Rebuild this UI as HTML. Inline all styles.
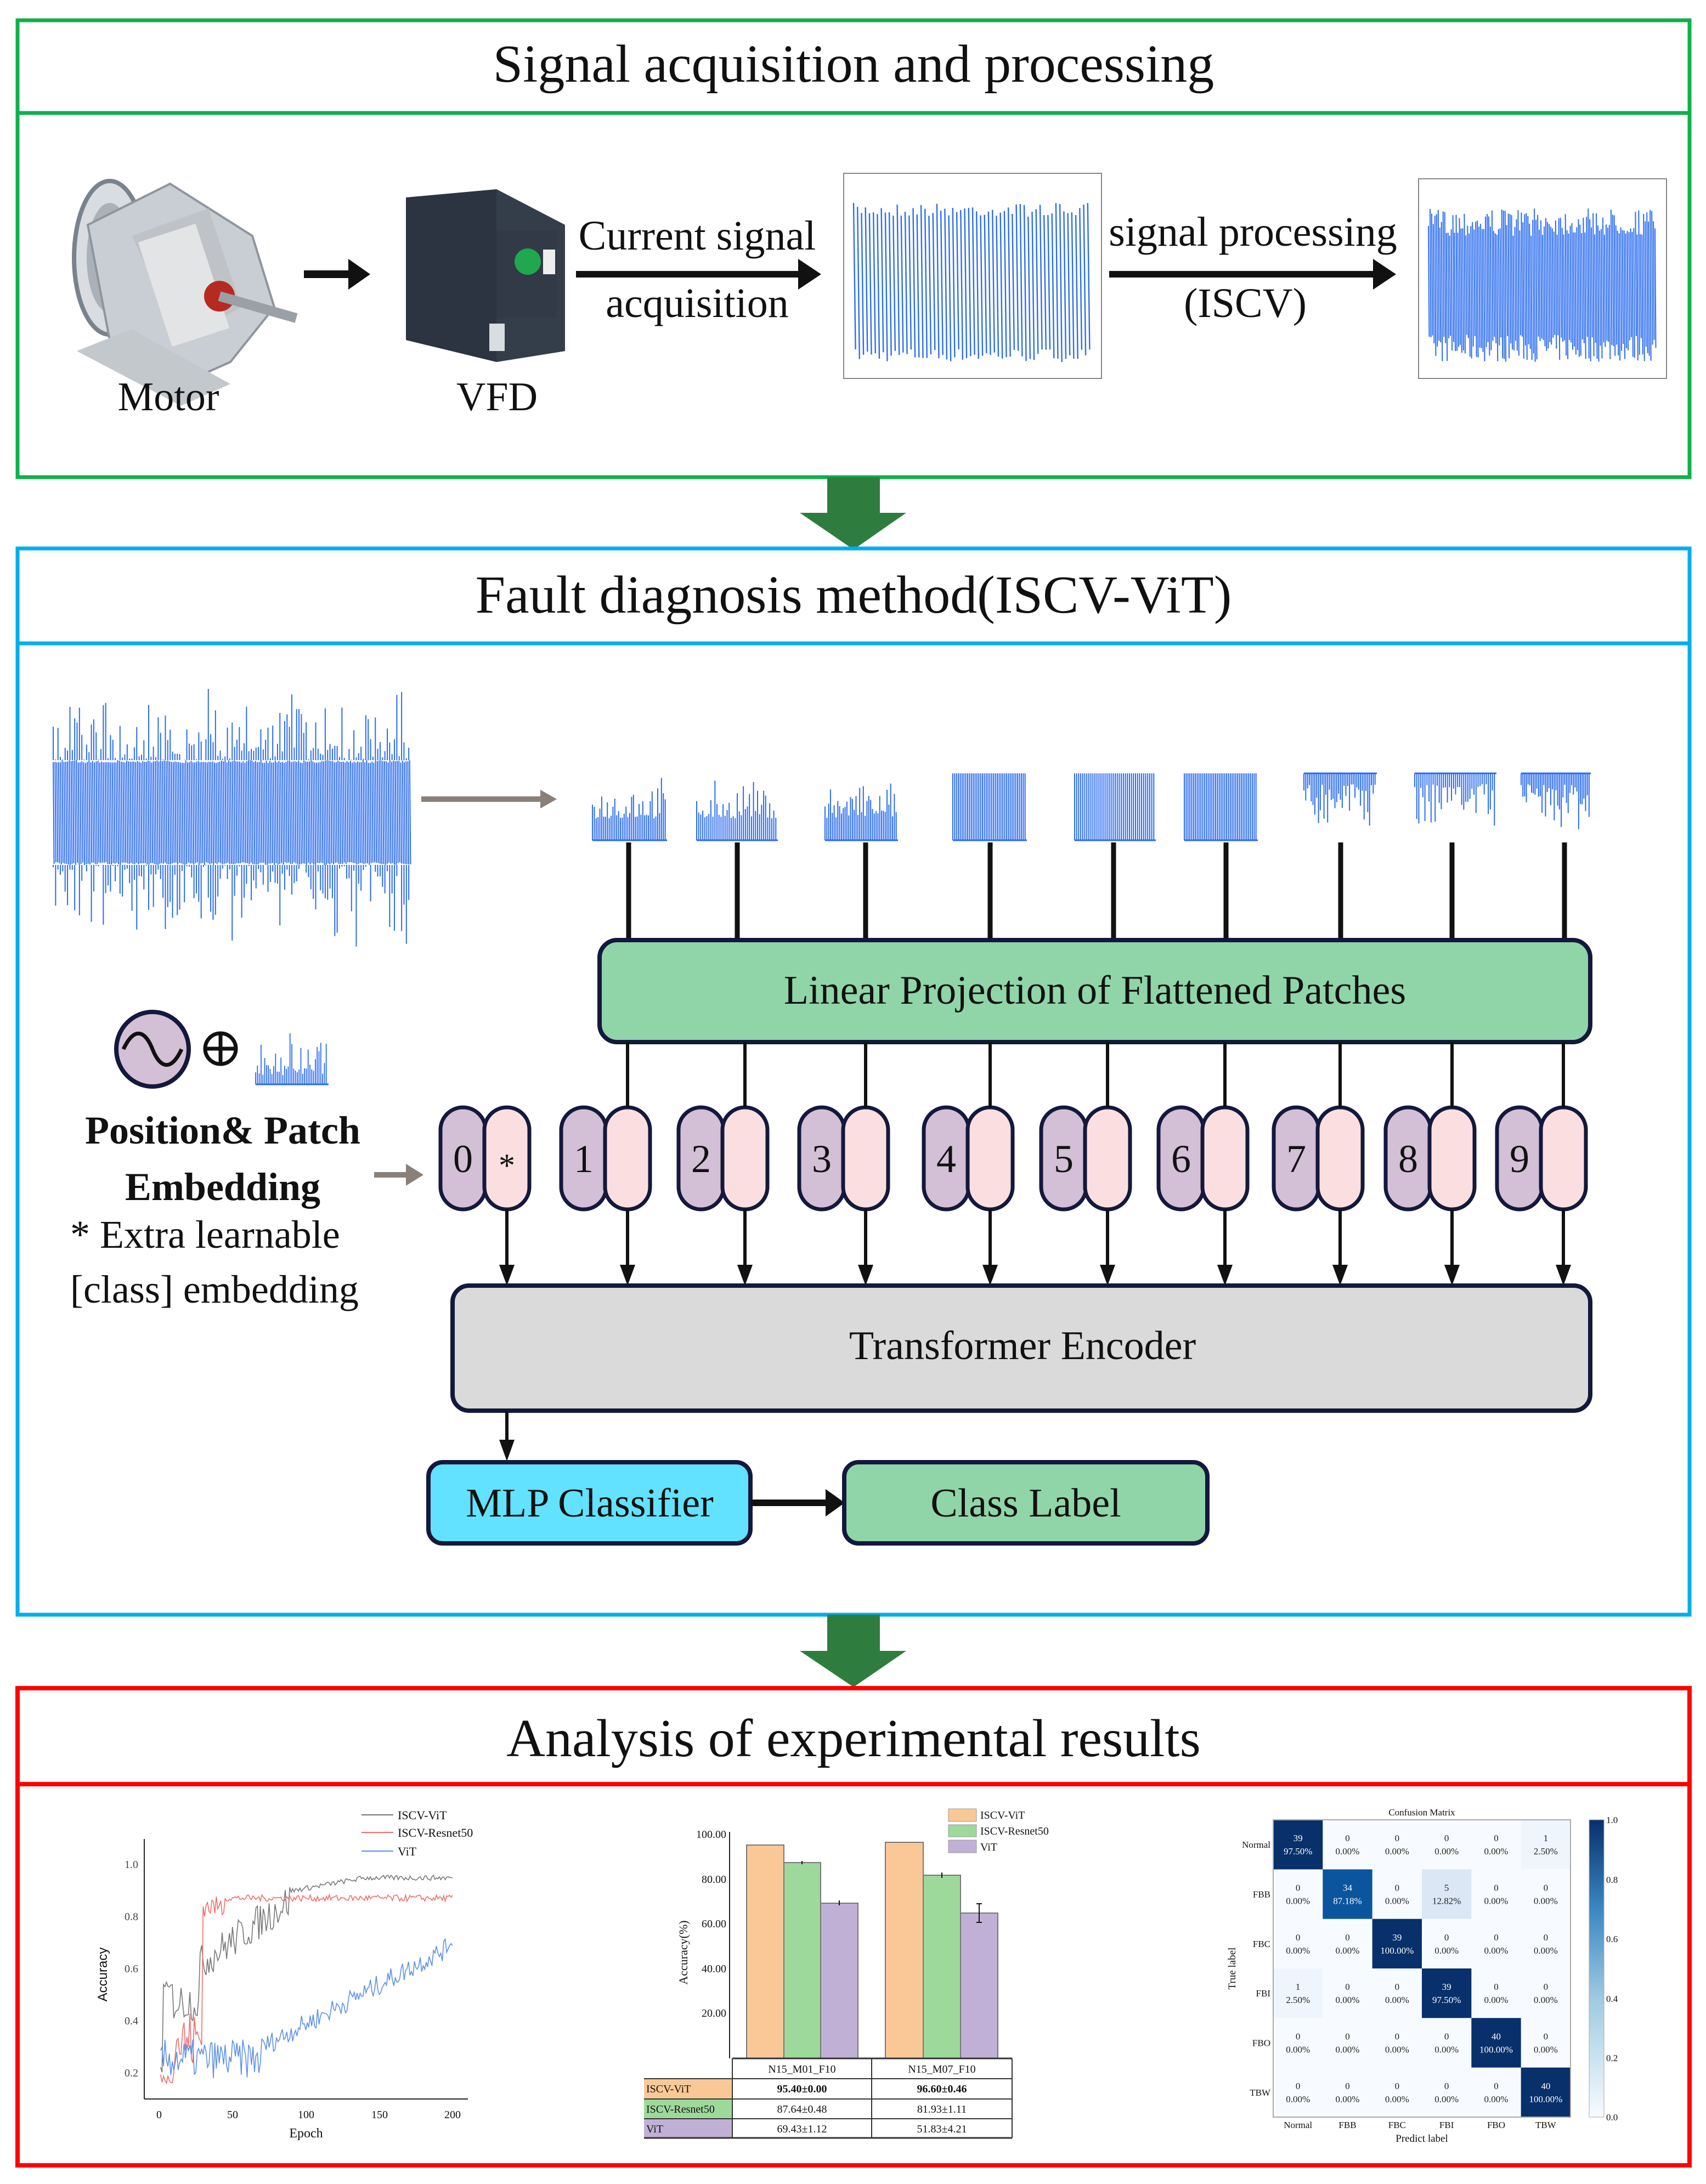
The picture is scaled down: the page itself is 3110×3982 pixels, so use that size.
<!DOCTYPE html>
<html><head><meta charset="utf-8"><style>
html,body{margin:0;padding:0;background:#fff}
svg{display:block}
text{font-family:"Liberation Serif",serif;fill:#111}
</style></head><body>
<svg id="s" xmlns="http://www.w3.org/2000/svg" width="3110" height="3982" viewBox="0 0 3110 3982">
<rect width="3110" height="3982" fill="#fff"/>
<!-- Section 1 -->
<rect x="32" y="37" width="3048" height="833" fill="none" stroke="#10b04a" stroke-width="7"/>
<line x1="32" y1="206" x2="3080" y2="206" stroke="#10b04a" stroke-width="7"/>
<text x="1556" y="149" font-size="98" text-anchor="middle">Signal acquisition and processing</text>
<!-- motor -->
<g>
<ellipse cx="200" cy="470" rx="65" ry="140" fill="#d9dde2" stroke="#7a828c" stroke-width="8"/>
<ellipse cx="200" cy="470" rx="42" ry="100" fill="#aab1b9"/>
<polygon points="160,410 310,335 460,430 500,560 420,660 330,700 200,620" fill="#c9ced4" stroke="#8e959d" stroke-width="4"/>
<polygon points="240,430 380,380 440,560 330,620" fill="#bfc3c7"/>
<rect x="280" y="420" width="110" height="200" fill="#e3e4e6" transform="rotate(-18 335 520)"/>
<circle cx="400" cy="540" r="28" fill="#b62a22"/>
<line x1="400" y1="540" x2="540" y2="580" stroke="#9aa0a6" stroke-width="18"/>
<polygon points="140,640 330,740 420,700 240,600" fill="#c3c8cd"/>
</g>
<text x="307" y="748" font-size="74" text-anchor="middle">Motor</text>
<line x1="554" y1="500" x2="640" y2="500" stroke="#111" stroke-width="14"/>
<polygon points="635,472 675,500 635,528" fill="#111"/>
<!-- VFD -->
<g>
<polygon points="740,360 905,345 1030,410 1030,640 905,660 740,620" fill="#2b3440"/>
<polygon points="905,345 1030,410 1030,640 905,660" fill="#343e4b"/>
<rect x="905" y="420" width="110" height="160" fill="#313a46"/>
<circle cx="962" cy="477" r="24" fill="#1fa84f"/>
<rect x="990" y="455" width="22" height="45" fill="#eee"/>
<rect x="892" y="590" width="28" height="50" fill="#d7dde0"/>
</g>
<text x="906" y="748" font-size="74" text-anchor="middle">VFD</text>
<text x="1271" y="455" font-size="76" text-anchor="middle">Current signal</text>
<text x="1271" y="578" font-size="76" text-anchor="middle">acquisition</text>
<line x1="1050" y1="500" x2="1460" y2="500" stroke="#111" stroke-width="12"/>
<polygon points="1455,472 1497,500 1455,528" fill="#111"/>
<rect x="1538" y="316" width="470" height="374" fill="#fff" stroke="#888" stroke-width="2"/>
<g id="sig1"></g>
<text x="2284" y="448" font-size="76" text-anchor="middle">signal processing</text>
<text x="2270" y="578" font-size="76" text-anchor="middle">(ISCV)</text>
<line x1="2022" y1="500" x2="2508" y2="500" stroke="#111" stroke-width="12"/>
<polygon points="2503,472 2545,500 2503,528" fill="#111"/>
<rect x="2586" y="326" width="452" height="364" fill="#fff" stroke="#888" stroke-width="2"/>
<g id="sig2"></g>
<!-- arrow 1 -->
<rect x="1508" y="870" width="96" height="70" fill="#2e7d3e"/>
<polygon points="1458,935 1652,935 1556,1002" fill="#2e7d3e"/>
<!-- Section 2 -->
<rect x="32" y="1000" width="3048" height="1944" fill="none" stroke="#00aeef" stroke-width="7"/>
<line x1="32" y1="1173" x2="3080" y2="1173" stroke="#00aeef" stroke-width="7"/>
<text x="1556" y="1117" font-size="98" text-anchor="middle">Fault diagnosis method(ISCV-ViT)</text>
<g id="longsig"></g>
<line x1="768" y1="1457" x2="990" y2="1457" stroke="#8a807a" stroke-width="10"/>
<polygon points="985,1440 1015,1457 985,1474" fill="#8a807a"/>
<g id="patches"></g>
<g id="pline" stroke="#111" stroke-width="10"></g>
<rect x="1093" y="1714" width="1806" height="186" rx="32" fill="#90d5a8" stroke="#14183c" stroke-width="8"/>
<text x="1996" y="1830" font-size="74" text-anchor="middle">Linear Projection of Flattened Patches</text>
<g id="tokens"></g>
<rect x="825" y="2344" width="2074" height="228" rx="30" fill="#dadada" stroke="#14183c" stroke-width="8"/>
<text x="1864" y="2478" font-size="74" text-anchor="middle">Transformer Encoder</text>
<line x1="924" y1="2574" x2="924" y2="2630" stroke="#111" stroke-width="6"/>
<polygon points="910,2625 938,2625 924,2664" fill="#111"/>
<rect x="781" y="2666" width="587" height="148" rx="26" fill="#62e2fe" stroke="#14183c" stroke-width="8"/>
<text x="1075" y="2765" font-size="74" text-anchor="middle">MLP Classifier</text>
<line x1="1370" y1="2740" x2="1510" y2="2740" stroke="#111" stroke-width="12"/>
<polygon points="1505,2715 1540,2740 1505,2765" fill="#111"/>
<rect x="1539" y="2666" width="662" height="148" rx="26" fill="#90d5a8" stroke="#14183c" stroke-width="8"/>
<text x="1870" y="2765" font-size="74" text-anchor="middle">Class Label</text>
<!-- position embedding -->
<ellipse cx="278" cy="1913" rx="66" ry="68" fill="#d3bfd6" stroke="#14183c" stroke-width="8"/>
<path d="M225,1913 C245,1870 265,1880 278,1913 C291,1946 311,1956 331,1913" fill="none" stroke="#111" stroke-width="7"/>
<circle cx="402" cy="1912" r="28" fill="none" stroke="#111" stroke-width="7"/>
<line x1="374" y1="1912" x2="430" y2="1912" stroke="#111" stroke-width="7"/>
<line x1="402" y1="1884" x2="402" y2="1940" stroke="#111" stroke-width="7"/>
<g id="smallsig"></g>
<text x="406" y="2085" font-size="72" font-weight="bold" text-anchor="middle">Position&amp; Patch</text>
<text x="406" y="2188" font-size="72" font-weight="bold" text-anchor="middle">Embedding</text>
<text x="128" y="2275" font-size="72">* Extra learnable</text>
<text x="128" y="2375" font-size="72">[class] embedding</text>
<line x1="682" y1="2142" x2="745" y2="2142" stroke="#8a807a" stroke-width="10"/>
<polygon points="740,2122 772,2142 740,2162" fill="#8a807a"/>
<!-- arrow 2 -->
<rect x="1508" y="2944" width="96" height="70" fill="#2e7d3e"/>
<polygon points="1458,3010 1652,3010 1556,3076" fill="#2e7d3e"/>
<!-- Section 3 -->
<rect x="32" y="3078" width="3048" height="870" fill="none" stroke="#ff0000" stroke-width="8"/>
<line x1="32" y1="3253" x2="3080" y2="3253" stroke="#ff0000" stroke-width="8"/>
<text x="1556" y="3202" font-size="98" text-anchor="middle">Analysis of experimental results</text>
<!-- line chart -->
<g font-size="20">
<line x1="263" y1="3353" x2="263" y2="3827" stroke="#222" stroke-width="2"/>
<line x1="263" y1="3827" x2="853" y2="3827" stroke="#222" stroke-width="2"/>
<text x="252" y="3406" text-anchor="end" style="fill:#444">1.0</text>
<text x="252" y="3501" text-anchor="end" style="fill:#444">0.8</text>
<text x="252" y="3596" text-anchor="end" style="fill:#444">0.6</text>
<text x="252" y="3691" text-anchor="end" style="fill:#444">0.4</text>
<text x="252" y="3786" text-anchor="end" style="fill:#444">0.2</text>
<text x="290" y="3862" text-anchor="middle">0</text>
<text x="424" y="3862" text-anchor="middle">50</text>
<text x="558" y="3862" text-anchor="middle">100</text>
<text x="692" y="3862" text-anchor="middle">150</text>
<text x="825" y="3862" text-anchor="middle">200</text>
<text x="558" y="3897" text-anchor="middle" font-size="24">Epoch</text>
<text x="0" y="0" font-size="24" text-anchor="middle" transform="translate(195 3600) rotate(-90)" style="font-family:'Liberation Sans',sans-serif">Accuracy</text>
<line x1="659" y1="3309" x2="717" y2="3309" stroke="#777" stroke-width="2"/>
<line x1="659" y1="3341" x2="717" y2="3341" stroke="#f06b6b" stroke-width="2"/>
<line x1="659" y1="3375" x2="717" y2="3375" stroke="#5b8fe8" stroke-width="2"/>
<text x="725" y="3317" font-size="22">ISCV-ViT</text>
<text x="725" y="3349" font-size="22">ISCV-Resnet50</text>
<text x="725" y="3383" font-size="22">ViT</text>
<g id="lc"></g>
</g>
<!-- bar chart -->
<g font-size="20">
<line x1="1330" y1="3340" x2="1330" y2="3753" stroke="#222" stroke-width="2"/>
<text x="1324" y="3351" text-anchor="end">100.00</text>
<text x="1324" y="3433" text-anchor="end">80.00</text>
<text x="1324" y="3514" text-anchor="end">60.00</text>
<text x="1324" y="3596" text-anchor="end">40.00</text>
<text x="1324" y="3677" text-anchor="end">20.00</text>
<text x="0" y="0" font-size="22" text-anchor="middle" transform="translate(1253 3560) rotate(-90)">Accuracy(%)</text>
<g stroke="#777" stroke-width="2">
<rect x="1361" y="3364" width="68" height="389" fill="#fac896"/>
<rect x="1429" y="3396" width="67" height="357" fill="#9dd99b"/>
<rect x="1496" y="3470" width="68" height="283" fill="#c1b0d6"/>
<rect x="1614" y="3359" width="69" height="394" fill="#fac896"/>
<rect x="1683" y="3419" width="68" height="334" fill="#9dd99b"/>
<rect x="1751" y="3488" width="68" height="265" fill="#c1b0d6"/>
</g>
<g stroke="#111" stroke-width="2">
<line x1="1462" y1="3393" x2="1462" y2="3399"/><line x1="1530" y1="3465" x2="1530" y2="3474"/>
<line x1="1717" y1="3414" x2="1717" y2="3424"/><line x1="1785" y1="3471" x2="1785" y2="3505"/>
<line x1="1780" y1="3471" x2="1790" y2="3471"/><line x1="1780" y1="3505" x2="1790" y2="3505"/>
</g>
<rect x="1729" y="3298" width="51" height="23" fill="#fac896" stroke="#999"/>
<rect x="1729" y="3327" width="51" height="22" fill="#9dd99b" stroke="#999"/>
<rect x="1729" y="3355" width="51" height="23" fill="#c1b0d6" stroke="#999"/>
<text x="1787" y="3316">ISCV-ViT</text><text x="1787" y="3345">ISCV-Resnet50</text><text x="1787" y="3374">ViT</text>
<rect x="1174" y="3790" width="161" height="37" fill="#fac896"/>
<rect x="1174" y="3827" width="161" height="36" fill="#9dd99b"/>
<rect x="1174" y="3863" width="161" height="35" fill="#c1b0d6"/>
<g stroke="#333" stroke-width="2" fill="none">
<line x1="1335" y1="3753" x2="1845" y2="3753" stroke-width="3"/>
<line x1="1174" y1="3790" x2="1845" y2="3790"/>
<line x1="1174" y1="3827" x2="1845" y2="3827"/>
<line x1="1174" y1="3863" x2="1845" y2="3863"/>
<line x1="1174" y1="3898" x2="1845" y2="3898" stroke-width="3"/>
<line x1="1335" y1="3753" x2="1335" y2="3898"/>
<line x1="1589" y1="3753" x2="1589" y2="3898"/>
<line x1="1845" y1="3753" x2="1845" y2="3898"/>
</g>
<text x="1462" y="3779" text-anchor="middle">N15_M01_F10</text>
<text x="1717" y="3779" text-anchor="middle">N15_M07_F10</text>
<text x="1178" y="3815">ISCV-ViT</text><text x="1178" y="3852">ISCV-Resnet50</text><text x="1178" y="3888">ViT</text>
<text x="1462" y="3815" text-anchor="middle" font-weight="bold">95.40±0.00</text>
<text x="1717" y="3815" text-anchor="middle" font-weight="bold">96.60±0.46</text>
<text x="1462" y="3852" text-anchor="middle">87.64±0.48</text>
<text x="1717" y="3852" text-anchor="middle">81.93±1.11</text>
<text x="1462" y="3888" text-anchor="middle">69.43±1.12</text>
<text x="1717" y="3888" text-anchor="middle">51.83±4.21</text>
</g>
<!-- confusion matrix -->
<g id="cm" font-size="17"></g>
<defs><linearGradient id="cb" x1="0" y1="1" x2="0" y2="0"><stop offset="0" stop-color="#f7fbff"/><stop offset="0.4" stop-color="#9ecae1"/><stop offset="0.7" stop-color="#3b87c2"/><stop offset="1" stop-color="#08306b"/></linearGradient></defs>
<rect x="2897" y="3318" width="27" height="542" fill="url(#cb)" stroke="#aaa"/>
<g font-size="17">
<text x="2928" y="3324">1.0</text><text x="2928" y="3433">0.8</text><text x="2928" y="3541">0.6</text><text x="2928" y="3650">0.4</text><text x="2928" y="3758">0.2</text><text x="2928" y="3866">0.0</text>
<text x="2592" y="3310" text-anchor="middle">Confusion Matrix</text>
<text x="2592" y="3905" text-anchor="middle" font-size="19">Predict label</text>
<text x="0" y="0" font-size="19" text-anchor="middle" transform="translate(2252 3589) rotate(-90)">True label</text>
</g>
</svg>
<script>
(function(){
var NS="http://www.w3.org/2000/svg";var BL="#2a6cf0";
var seed=7;function r(){seed=(seed*16807)%2147483647;return seed/2147483647;}
function P(g,d,c,w){var p=document.createElementNS(NS,"path");p.setAttribute("d",d);p.setAttribute("stroke",c);p.setAttribute("stroke-width",w);p.setAttribute("fill","none");document.getElementById(g).appendChild(p);}
function osc(g,x0,x1,yt,yb,n,noise,w){var d="",dx=(x1-x0)/n;for(var i=0;i<n;i++){var x=x0+i*dx;var a=yt+r()*noise,b=yb-r()*noise;d+="M"+x.toFixed(1)+","+a.toFixed(1)+"L"+(x+dx/2).toFixed(1)+","+b.toFixed(1);}P(g,d,BL,w);}
osc("sig1",1556,1990,370,660,60,25,2.4);
osc("sig2",2604,3020,380,660,140,50,2);
osc("longsig",97,750,1386,1577,200,5,2);
(function(){var d="";for(var i=0;i<150;i++){var x=97+i*4.35;d+="M"+x+",1386L"+x+","+(1386-r()*r()*150);d+="M"+x+",1577L"+x+","+(1577+r()*r()*150);}P("longsig",d,BL,2);})();
var px=[[1080,1216,0],[1270,1418,0],[1504,1637,0],[1737,1872,1],[1959,2107,1],[2159,2293,1],[2377,2510,2],[2579,2728,2],[2773,2900,2]];
px.forEach(function(p){var d="",n=40;for(var i=0;i<n;i++){var x=p[0]+i*(p[1]-p[0])/n;if(p[2]==0){d+="M"+x+",1532L"+x+","+(1532-40-r()*r()*80);}else if(p[2]==1){d+="M"+x+",1410L"+x+",1532";}else{d+="M"+x+",1410L"+x+","+(1430+r()*r()*90);}}
P("patches",d,BL,2);d="M"+p[0]+","+(p[2]==2?1410:1532)+"L"+p[1]+","+(p[2]==2?1410:1532);P("patches",d,BL,3);});
(function(){var d="";for(var i=0;i<40;i++){var x=466+i*3.3;d+="M"+x+",1977L"+x+","+(1960-r()*r()*90);}P("smallsig",d,BL,1.8);P("smallsig","M466,1977L599,1977",BL,3);})();
var lx=[1146,1344,1578,1805,2030,2235,2444,2647,2852];
var lx2=[1144,1358,1578,1805,2019,2233,2443,2647,2850];
var dd="";lx.forEach(function(x){dd+="M"+x+",1536L"+x+",1714";});P("pline",dd,"#111",9);
var tg=document.getElementById("tokens");
function cap(x,fill){var e=document.createElementNS(NS,"rect");e.setAttribute("x",x-41);e.setAttribute("y",2019);e.setAttribute("width",82);e.setAttribute("height",186);e.setAttribute("rx",41);e.setAttribute("fill",fill);e.setAttribute("stroke","#14183c");e.setAttribute("stroke-width",7);tg.appendChild(e);}
function txt(x,y,s,sz){var e=document.createElementNS(NS,"text");e.setAttribute("x",x);e.setAttribute("y",y);e.setAttribute("font-size",sz);e.setAttribute("text-anchor","middle");e.textContent=s;tg.appendChild(e);return e;}
var pinks=[924].concat(lx2);var d2="",d3="";
pinks.forEach(function(x,i){cap(x-80,"#d3bfd6");cap(x,"#fbdfe0");txt(x-80,2137,String(i),72);if(i==0)txt(x,2145,"*",60);
 if(i>0)d2+="M"+x+",1900L"+x+",2019";d3+="M"+x+",2205L"+x+",2312";
 var a=document.createElementNS(NS,"polygon");a.setAttribute("points",(x-14)+",2306 "+(x+14)+",2306 "+x+",2344");a.setAttribute("fill","#111");tg.appendChild(a);});
P("tokens",d2,"#111",6);P("tokens",d3,"#111",6);
function X(e){return 290+e*2.675;}function Y(v){return 3780-(v-0.2)*475;}
function curve(f,c){var d="";for(var e=1;e<=200;e++){d+=(e==1?"M":"L")+X(e).toFixed(1)+","+Y(f(e)).toFixed(1);}P("lc",d,c,1.6);}
curve(function(e){if(e<10)return 0.2+ (e>2?0.3:0)+r()*0.05;if(e<28)return 0.4+r()*0.15;if(e<90)return Math.min(0.9,0.62+(e-28)*0.004)+ (r()-0.5)*0.14;return 0.9+Math.min(0.05,(e-90)*0.001)+(r()-0.5)*0.02;},"#777");
curve(function(e){if(e<10)return 0.16+r()*0.04;if(e<30)return 0.2+r()*0.25;if(e<45)return 0.84+(r()-0.5)*0.08;return 0.872+(r()-0.5)*0.025;},"#f06b6b");
curve(function(e){if(e<70)return 0.18+r()*0.15;var v=0.3+(e-70)*0.003;if(v>0.68)v=0.68+(e-150)*0.0005;return v+(r()-0.5)*0.08;},"#5b8fe8");
var cm=document.getElementById("cm");var L=["Normal","FBB","FBC","FBI","FBO","TBW"];
var M=[[39,0,0,0,0,1],[0,34,0,5,0,0],[0,0,39,0,0,0],[1,0,0,39,0,0],[0,0,0,0,40,0],[0,0,0,0,0,40]];
var P2=[["97.50%","0.00%","0.00%","0.00%","0.00%","2.50%"],["0.00%","87.18%","0.00%","12.82%","0.00%","0.00%"],["0.00%","0.00%","100.00%","0.00%","0.00%","0.00%"],["2.50%","0.00%","0.00%","97.50%","0.00%","0.00%"],["0.00%","0.00%","0.00%","0.00%","100.00%","0.00%"],["0.00%","0.00%","0.00%","0.00%","0.00%","100.00%"]];
var cw=(2863-2321)/6,ch=(3860-3318)/6;
for(var i=0;i<6;i++)for(var j=0;j<6;j++){var col="#f7fbff";var p=P2[i][j];if(i==j)col=(i==1?"#0b559f":"#08306b");else if(p=="12.82%")col="#dbe7f4";else if(p=="2.50%")col="#eef5fc";
 var e=document.createElementNS(NS,"rect");e.setAttribute("x",2321+j*cw);e.setAttribute("y",3318+i*ch);e.setAttribute("width",cw+0.5);e.setAttribute("height",ch+0.5);e.setAttribute("fill",col);cm.appendChild(e);
 var w=(i==j);[String(M[i][j]),p].forEach(function(s,k){var t=document.createElementNS(NS,"text");t.setAttribute("x",2321+j*cw+cw/2);t.setAttribute("y",3318+i*ch+ch/2-6+k*24);t.setAttribute("text-anchor","middle");t.setAttribute("style","fill:"+(w?"#fff":"#222"));t.textContent=s;cm.appendChild(t);});}
var fr=document.createElementNS(NS,"rect");fr.setAttribute("x",2321);fr.setAttribute("y",3318);fr.setAttribute("width",542);fr.setAttribute("height",542);fr.setAttribute("fill","none");fr.setAttribute("stroke","#aaa");fr.setAttribute("stroke-width",2);cm.appendChild(fr);
L.forEach(function(s,i){var t=document.createElementNS(NS,"text");t.setAttribute("x",2316);t.setAttribute("y",3318+i*ch+ch/2+6);t.setAttribute("text-anchor","end");t.textContent=s;cm.appendChild(t);
 t=document.createElementNS(NS,"text");t.setAttribute("x",2321+i*cw+cw/2);t.setAttribute("y",3880);t.setAttribute("text-anchor","middle");t.textContent=s;cm.appendChild(t);});
})();
</script>
</body></html>
